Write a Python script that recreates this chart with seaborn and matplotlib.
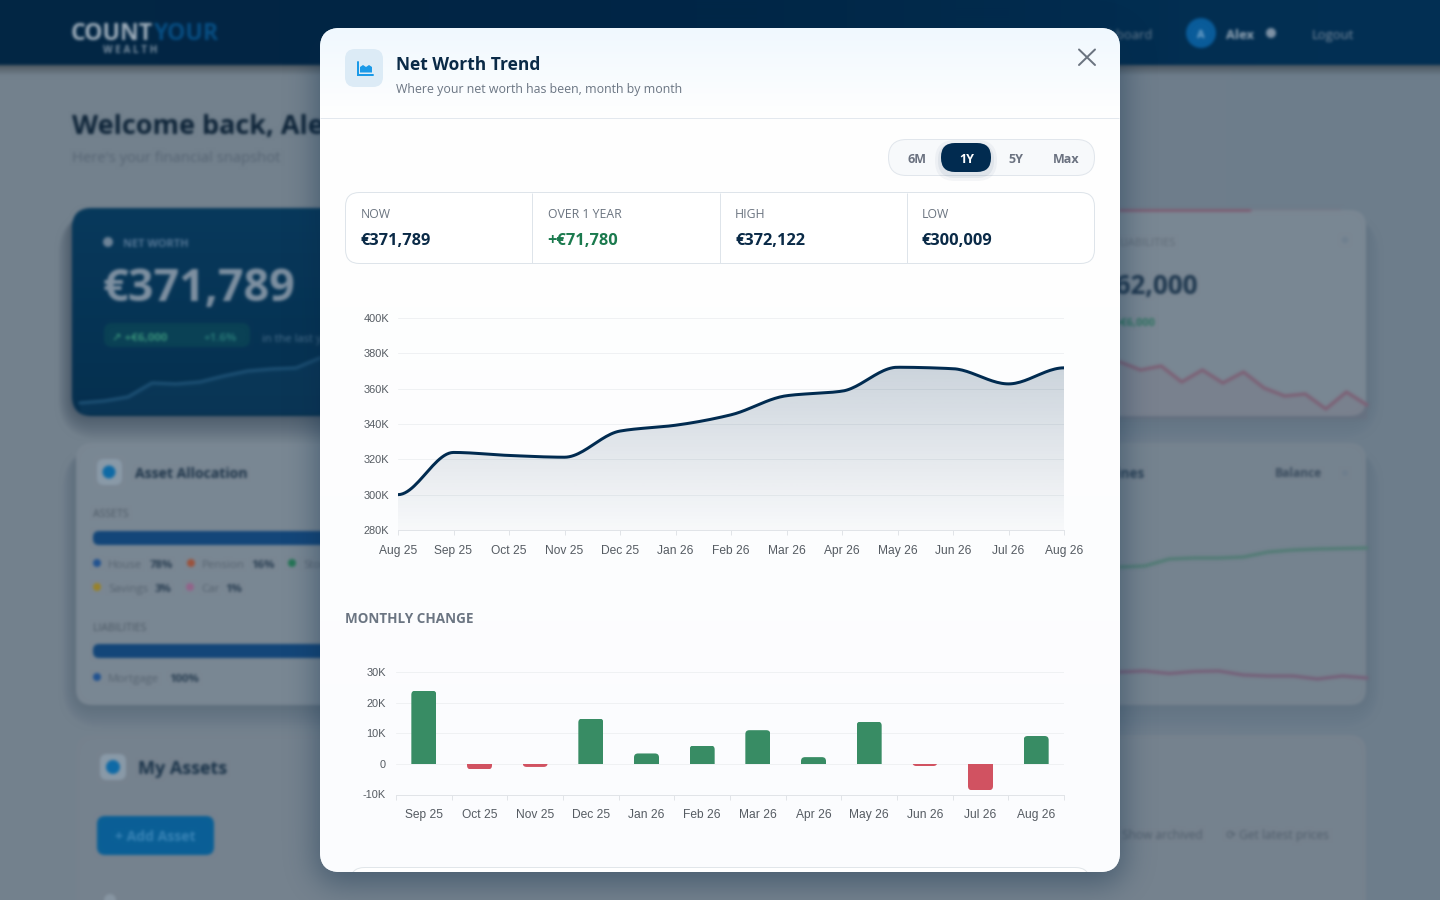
import numpy as np
import pandas as pd
import matplotlib
matplotlib.use("Agg")
import matplotlib.pyplot as plt
from matplotlib.patches import FancyBboxPatch, Circle, Polygon, BoxStyle
from matplotlib.transforms import IdentityTransform
import seaborn as sns

# ---- data ----
trend_months = ["Aug 25", "Sep 25", "Oct 25", "Nov 25", "Dec 25", "Jan 26", "Feb 26",
                "Mar 26", "Apr 26", "May 26", "Jun 26", "Jul 26", "Aug 26"]
trend_values = [300.009, 323.9, 322.2, 321.2, 336.0, 339.3, 345.2,
                356.0, 358.6, 372.122, 371.3, 362.7, 371.789]
trend_ticks = [280, 300, 320, 340, 360, 380, 400]

change_months = trend_months[1:]
change_values = [23.9, -1.8, -1.0, 14.8, 3.4, 6.0, 11.0, 2.2, 13.8, -0.7, -8.6, 9.1]
change_ticks = [-10, 0, 10, 20, 30]

stat_labels = ["NOW", "OVER 1 YEAR", "HIGH", "LOW"]
stat_values = ["€371,789", "+€71,780", "€372,122", "€300,009"]
range_labels = ["6M", "1Y", "5Y", "Max"]

# blurred dashboard sparklines behind the dialog
bg_networth = [403, 401, 397, 383, 384, 382, 376, 371, 369, 368, 358]
bg_liab = [362, 370, 366, 382, 370, 383, 372, 388, 396, 394, 409, 392, 405]
bg_green = [567, 566, 559, 558, 558, 557, 552, 550, 549, 548.5, 548]
bg_red = [672, 671, 673.5, 671.5, 671, 675, 676, 676, 679, 676, 678]

# ---- setup ----
sns.set_theme(style="white")
plt.rcParams["font.family"] = ["Open Sans", "DejaVu Sans"]
W, H = 1440, 900
PT = 0.72
NAVY = "#012B50"
fig = plt.figure(figsize=(14.4, 9), dpi=100)


def make_blur(sigma, pad=False):
    R = int(3 * sigma)
    w = np.exp(-0.5 * (np.arange(-R, R + 1) / sigma) ** 2)
    w = (w / w.sum()).astype(np.float32)

    def run(a):
        out = np.zeros_like(a)
        for k, wk in zip(range(-R, R + 1), w):
            out += wk * np.roll(a, k, axis=0)
        res = np.zeros_like(a)
        for k, wk in zip(range(-R, R + 1), w):
            res += wk * np.roll(out, k, axis=1)
        return res

    def flt(img, dpi):
        img = img.astype(np.float32)
        if pad:
            a = np.pad(img, ((R, R), (R, R), (0, 0)), mode="constant")
        else:
            a = np.pad(img, ((R, R), (R, R), (0, 0)), mode="edge")
        al = a[..., 3:4]
        a = np.concatenate([a[..., :3] * al, al], axis=2)
        b = run(a)
        al2 = np.clip(b[..., 3:4], 1e-4, 1)
        rgb = np.clip(b[..., :3] / al2, 0, 1)
        res = np.concatenate([rgb, b[..., 3:4]], axis=2)
        if pad:
            return np.clip(res, 0, 1), -R, -R
        return np.clip(res[R:-R, R:-R], 0, 1), 0, 0

    return flt


def full_ax(z):
    a = fig.add_axes([0, 0, 1, 1], zorder=z)
    a.set_xlim(0, W)
    a.set_ylim(H, 0)
    a.axis("off")
    a.patch.set_alpha(0)
    return a


def rbox(a, x0, y0, x1, y1, r, fc, ec="none", lw=0, z=1, alpha=None):
    p = FancyBboxPatch((x0, y0), x1 - x0, y1 - y0,
                       boxstyle=BoxStyle.Round(pad=0, rounding_size=r),
                       fc=fc, ec=ec, lw=lw * PT, zorder=z, alpha=alpha)
    a.add_patch(p)
    return p


def btext(x, y, s, px, color, weight="normal", ha="left"):
    return bg.text(x, y + 0.36 * px, s, fontsize=px * PT, color=color, fontweight=weight, ha=ha, va="baseline", zorder=5)


def dot(x, y, r, color):
    bg.add_patch(Circle((x, y), r, fc=color, ec="none", lw=0, zorder=5))


def card_shadow(x0, y0, x1, y1, strength=0.02):
    for g in range(2, 26, 3):
        rbox(bg, x0 - g * 0.6, y0 + 6, x1 + g * 0.6, y1 + g, 18 + g, "#14263A", z=1.5, alpha=strength)


# ---- blurred background ----
bg = full_ax(0)
grad = np.array([[[0.455, 0.51, 0.555], [0.44, 0.50, 0.55], [0.43, 0.49, 0.545]]])
bg.imshow(grad, extent=(0, W, H, 0), aspect="auto", interpolation="bicubic", zorder=0)
nav = np.array([[[0.01, 0.15, 0.27], [0.0, 0.14, 0.27], [0.01, 0.19, 0.33]]])
bg.imshow(nav, extent=(0, W, 65, 0), aspect="auto", interpolation="bicubic", zorder=1)
shade = np.zeros((20, 1, 4))
shade[:, 0, 3] = np.linspace(0.3, 0, 20)
bg.imshow(shade, extent=(0, W, 76, 65), aspect="auto", zorder=1)
bg.set_xlim(0, W)
bg.set_ylim(H, 0)

btext(71, 32, "COUNT", 23, "#A0AFBC", "bold")
btext(154, 32, "YOUR", 23, "#084F84", "bold")
btext(103, 49, "W E A L T H", 10, "#7F92A3", "bold")
btext(1153, 34, "Dashboard", 13, "#6A7F93", ha="right")
dot(1201, 33, 15, "#0A5C9A")
btext(1201, 34, "A", 11, "#75A6CC", "bold", ha="center")
btext(1240, 34, "Alex", 13, "#98A9B8", "bold", ha="center")
dot(1271, 33, 5, "#7F93A6")
btext(1333, 34, "Logout", 13, "#7C8EA0", ha="center")

btext(72, 124, "Welcome back, Alex", 27, "#0E2438", "bold")
btext(72, 157, "Here's your financial snapshot", 14.8, "#566473")

# net worth card
card_shadow(72, 208, 640, 416, 0.05)
rbox(bg, 72, 208, 640, 416, 20, "#06304F", z=2)
wash = np.zeros((60, 1, 4))
wash[:, 0, :3] = (0.04, 0.28, 0.44)
wash[:, 0, 3] = np.linspace(0.4, 0.0, 60)
im = bg.imshow(wash, extent=(72, 640, 416, 208), aspect="auto", zorder=2.1)
im.set_clip_path(rbox(bg, 72, 208, 640, 416, 20, "none", z=0))
bg.set_xlim(0, W)
bg.set_ylim(H, 0)
dot(108, 242, 5, "#6F8599")
btext(123, 243, "NET WORTH", 11, "#557796", "bold")
btext(103, 285, "€371,789", 45, "#7E90A1", "bold")
rbox(bg, 104, 323, 250, 347, 8, "#0C4856", z=3, alpha=0.7)
btext(112, 337, "↗ +€6,000", 11.5, "#38917A", "bold")
btext(203, 337, "+1.6%", 11.5, "#267575", "bold")
btext(262, 338, "in the last year", 11, "#4E7392")

# right upper card
card_shadow(640, 210, 1366, 416, 0.012)
rbox(bg, 640, 210, 1366, 416, 16, "#7A8793", z=2)
bg.plot([1120, 1250], [209.5, 209.5], color="#7F5C72", lw=2.0, zorder=3)
bg.plot([1250, 1340], [209.5, 209.5], color="#7F7486", lw=1.5, zorder=3, alpha=0.4)
btext(1176, 242, "LIABILITIES", 11, "#5F6B77", ha="right")
btext(1198, 285, "€362,000", 26, "#1E374E", "bold", ha="right")
btext(1155, 322, "+€6,000", 11, "#2F7461", "bold", ha="right")
dot(1345, 240, 3.5, "#70808F")

# allocation card
card_shadow(76, 443, 640, 705, 0.022)
rbox(bg, 76, 443, 640, 705, 16, "#7A8793", z=2)
rbox(bg, 97, 459, 122, 485, 7, "#8A9AA8", z=3)
dot(109, 472, 6.5, "#0E6AA5")
btext(135, 473, "Asset Allocation", 14, "#1C3348", "bold")
btext(93, 513, "ASSETS", 10.5, "#4C5965")
rbox(bg, 93, 531, 640, 545, 6, "#134679", z=3)
for x, col, lab, lx, pct, px in [(97, "#215290", "House", 108, "78%", 161),
                                 (191, "#9C523C", "Pension", 202, "16%", 263),
                                 (292, "#247555", "Stocks", 303, "", 0)]:
    dot(x, 563, 4, col)
    btext(lx, 564, lab, 11.5, "#566370")
    if pct:
        btext(px, 564, pct, 11.5, "#2A3F53", "bold", ha="center")
dot(97, 587, 4, "#998228")
btext(108, 588, "Savings", 11.5, "#566370")
btext(163, 588, "3%", 11.5, "#2A3F53", "bold", ha="center")
dot(190, 587, 4, "#93648A")
btext(201, 588, "Car", 11.5, "#566370")
btext(234, 588, "1%", 11.5, "#2A3F53", "bold", ha="center")
btext(93, 627, "LIABILITIES", 10.5, "#4C5965")
rbox(bg, 93, 644, 640, 658, 6, "#134679", z=3)
dot(97, 677, 4, "#215290")
btext(108, 678, "Mortgage", 11.5, "#566370")
btext(184, 678, "100%", 11.5, "#2A3F53", "bold", ha="center")

# right middle card
card_shadow(640, 443, 1366, 705, 0.012)
rbox(bg, 640, 443, 1366, 705, 16, "#76838F", z=2)
btext(1145, 473, "Timelines", 13.5, "#2A4156", "bold", ha="right")
btext(1298, 473, "Balance", 12, "#3A4C5E", "bold", ha="center")
dot(1345, 473, 3, "#6E7E8D")

# assets card
rbox(bg, 76, 735, 1366, 930, 16, "#76828E", z=2)
rbox(bg, 100, 754, 126, 780, 7, "#8A9AA8", z=3)
dot(113, 767, 7, "#0F6AA6")
btext(138, 768, "My Assets", 18, "#1A3349", "bold")
rbox(bg, 97, 816, 214, 855, 8, "#0A5F96", z=3)
btext(155, 836, "+ Add Asset", 14, "#3A84B6", "bold", ha="center")
btext(1203, 835, "Show archived", 12, "#4F5D6B", ha="right")
btext(1226, 835, "⟳ Get latest prices", 12, "#4F5D6B")
dot(110, 900, 6, "#8896A3")
bg.set_agg_filter(make_blur(1.5))


def spark(vals, x0, x1, color, fill=None):
    xs = np.linspace(x0, x1, len(vals))
    sns.lineplot(x=xs, y=vals, ax=sp, color=color, lw=2.4, estimator=None, sort=False, zorder=4)
    if fill:
        sp.fill_between(xs, vals, [max(vals) + 10] * len(vals), color=fill, alpha=0.12, lw=0, zorder=3)


sp = full_ax(1)
spark(bg_networth, 80, 320, "#1D5074", "#2A6288")
spark(bg_liab, 1120, 1367, "#7E6176", "#7A586C")
spark(bg_green, 1120, 1367, "#527C75")
spark(bg_red, 1120, 1367, "#766079")
sp.set_xlim(0, W)
sp.set_ylim(H, 0)
sp.axis("off")
sp.set_agg_filter(make_blur(1.5, pad=True))

# ---- soft dialog shadow ----
sh = full_ax(1.5)
rbox(sh, 316, 34, 1124, 884, 24, "#0A2A47", z=1, alpha=0.42)
sh.set_agg_filter(make_blur(15, pad=True))

# ---- dialog ----
md = full_ax(2)
modal = rbox(md, 320, 28, 1120, 872, 20, "#FFFFFF", z=1)
ramp = np.ones((844, 1, 3))
top = np.array([240, 248, 254]) / 255
white = np.array([255, 255, 255]) / 255
low = np.array([251, 252, 254]) / 255
for i in range(844):
    if i < 90:
        ramp[i, 0] = top + (white - top) * (i / 90)
    else:
        ramp[i, 0] = white + (low - white) * ((i - 90) / 754)
mim = md.imshow(ramp, extent=(320, 1120, 872, 28), aspect="auto", zorder=1.1)
mim.set_clip_path(modal)
md.set_xlim(0, W)
md.set_ylim(H, 0)
md.plot([320, 1119], [117.5, 117.5], color="#E3E8EE", lw=1 * PT, zorder=2, solid_capstyle="butt")

rbox(md, 345, 49, 383, 87, 10, "#DCEBF6", z=2)
md.plot([357.5, 357.5, 373], [62, 75, 75], color="#1B9AE8", lw=2 * PT, zorder=3, solid_joinstyle="miter")
md.add_patch(Polygon([(360, 72.5), (360, 67), (363, 65), (366, 67), (369, 65), (372, 67), (372, 72.5)],
                     closed=True, fc="#1B9AE8", ec="none", lw=0, zorder=3))

md.text(396, 70, "Net Worth Trend", fontsize=17.4 * PT, fontweight="bold", color="#0A2A47", va="baseline", zorder=3)
md.text(395.5, 93, "Where your net worth has been, month by month", fontsize=12.45 * PT, color="#6B7683",
        va="baseline", zorder=3)
md.plot([1079, 1095], [49.5, 65], color="#6B7480", lw=2 * PT, zorder=3)
md.plot([1095, 1079], [49.5, 65], color="#6B7480", lw=2 * PT, zorder=3)

# range selector
rbox(md, 888.5, 139.5, 1094.5, 175.5, 18, "#F7F9FB", "#E1E6EC", 1, z=2)
for g, al in [(6, 0.04), (3, 0.06)]:
    rbox(md, 941 - g, 143 - g + 3, 991 + g, 172 + g + 3, 14 + g, NAVY, z=2.1, alpha=al)
rbox(md, 941, 143, 991, 172, 14, NAVY, z=2.2)
for lab, cx in zip(range_labels, [917, 966.5, 1016, 1066]):
    md.text(cx, 163, lab, fontsize=12.5 * PT, fontweight="bold", ha="center", va="baseline", zorder=3,
            color="#FFFFFF" if lab == "1Y" else "#6B7280")

# stat cards
rbox(md, 345.5, 192.5, 1094.5, 263.5, 14, "#FFFFFF", "#DEE4EA", 1, z=2)
for x in [532, 720, 907]:
    md.plot([x, x], [193, 263], color="#DEE4EA", lw=1 * PT, zorder=3, solid_capstyle="butt")
for lab, val, x in zip(stat_labels, stat_values, [360.5, 547.5, 735, 922]):
    md.text(x, 218, lab, fontsize=12.3 * PT, fontweight="medium", color="#6B7480", va="baseline", zorder=3)
    md.text(x, 245, val, fontsize=16.4 * PT, fontweight="bold", va="baseline", zorder=3,
            color="#1B7A4E" if val.startswith("+") else "#0A2A47")

md.text(345, 623, "MONTHLY CHANGE", fontsize=13.5 * PT, fontweight="bold", color="#6B7582", va="baseline", zorder=3)

# cut-off next card at the bottom
nxt = rbox(md, 350.5, 867.5, 1089.5, 920, 14, "#FFFFFF", "#E1E6EA", 1, z=2)
nxt.set_clip_path(modal)


# ---- charts ----
def chart_ax(l, r, t, b):
    a = fig.add_axes([l / W, 1 - b / H, (r - l) / W, (b - t) / H], zorder=3)
    a.patch.set_alpha(0)
    for s in ["top", "left", "right"]:
        a.spines[s].set_visible(False)
    a.spines["bottom"].set_color("#E1E4E8")
    a.spines["bottom"].set_linewidth(1 * PT)
    a.set_axisbelow(True)
    a.grid(False)
    a.yaxis.grid(True, color="#EFF1F3", lw=1 * PT)
    return a


def fmt_k(v):
    return "0" if v == 0 else f"{v}K"


XTICK_FONT = dict(fontfamily="Liberation Sans", fontsize=12 * PT, color="#555B62")
YTICK_FONT = dict(fontfamily="Liberation Sans", fontsize=11 * PT, color="#555B62")

# monotone curve through the monthly values
vals = np.array(trend_values)
slopes = np.diff(vals)
tang = np.zeros_like(vals)
for i in range(1, len(vals) - 1):
    a, b = slopes[i - 1], slopes[i]
    tang[i] = 2 * a * b / (a + b) if a * b > 0 else 0.0
tt = np.linspace(0, 1, 25)
curve_x, curve_y = [], []
for i in range(len(vals) - 1):
    h00 = 2 * tt ** 3 - 3 * tt ** 2 + 1
    h10 = tt ** 3 - 2 * tt ** 2 + tt
    h01 = -2 * tt ** 3 + 3 * tt ** 2
    h11 = tt ** 3 - tt ** 2
    curve_x.extend(i + tt)
    curve_y.extend(h00 * vals[i] + h10 * tang[i] + h01 * vals[i + 1] + h11 * tang[i + 1])
curve_x, curve_y = np.array(curve_x), np.array(curve_y)

ax1 = chart_ax(398, 1064, 318, 530)
sns.lineplot(data=pd.DataFrame({"m": curve_x, "v": curve_y}), x="m", y="v", ax=ax1, color=NAVY, lw=3 * PT,
             estimator=None, sort=False, zorder=3)
g = np.zeros((256, 1, 4))
g[:, 0, :3] = matplotlib.colors.to_rgb(NAVY)
g[:, 0, 3] = np.linspace(0.25, 0.02, 256)
gim = ax1.imshow(g, extent=(0, 12, 280, 400), aspect="auto", zorder=1, origin="upper")
poly = Polygon(np.vstack([[0, 280], np.column_stack([curve_x, curve_y]), [12, 280]]), closed=True,
               transform=ax1.transData, fc="none", ec="none")
ax1.add_patch(poly)
gim.set_clip_path(poly)
ax1.set_xlim(0, 12)
ax1.set_ylim(280, 400)
ax1.set_xlabel("")
ax1.set_ylabel("")
ax1.set_yticks(trend_ticks)
ax1.set_yticklabels([fmt_k(v) for v in trend_ticks], **YTICK_FONT)
ax1.set_xticks(range(13))
ax1.set_xticklabels(trend_months, **XTICK_FONT)
ax1.tick_params(axis="y", length=0, pad=9 * PT)
ax1.tick_params(axis="x", length=5 * PT, width=1 * PT, color="#E1E4E8", pad=19 * PT, bottom=True)
for lab in ax1.get_xticklabels():
    lab.set_va("baseline")

# monthly change bars
ax2 = chart_ax(396, 1064, 672, 794.5)
df = pd.DataFrame({"month": change_months, "change": change_values,
                   "dir": ["up" if v >= 0 else "down" for v in change_values]})
sns.barplot(data=df, x="month", y="change", hue="dir", order=change_months, dodge=False, legend=False,
            palette={"up": "#388C64", "down": "#D15261"}, saturation=1, width=25 / 55.67, ax=ax2, zorder=2)
ax2.set_xlim(-0.5, 11.5)
ax2.set_ylim(-10, 30)
ax2.set_xlabel("")
ax2.set_ylabel("")
ax2.set_yticks(change_ticks)
ax2.set_yticklabels([fmt_k(v) for v in change_ticks], **YTICK_FONT)
ax2.set_xticks(range(12))
ax2.set_xticklabels(change_months, **XTICK_FONT)
ax2.set_xticks(np.arange(-0.5, 12, 1), minor=True)
ax2.tick_params(axis="y", length=0, pad=10 * PT)
ax2.tick_params(axis="x", which="major", length=0, pad=23.5 * PT, bottom=False)
ax2.tick_params(axis="x", which="minor", length=5 * PT, width=1 * PT, color="#E1E4E8", bottom=True)
ax2.yaxis.grid(True, color="#EFF1F3", lw=1 * PT)
ax2.xaxis.grid(False, which="both")
for lab in ax2.get_xticklabels():
    lab.set_va("baseline")

# rounded outer corners on each bar, square at the zero line
fig.canvas.draw()
for p in ax2.patches:
    h = p.get_height()
    if h == 0:
        continue
    (x0, y0), (x1, y1) = ax2.transData.transform([(p.get_x(), p.get_y()), (p.get_x() + p.get_width(), p.get_y() + h)])
    ylo, yhi = min(y0, y1), max(y0, y1)
    r = 4
    if h > 0:
        ylo -= 2 * r
    else:
        yhi += 2 * r
    p.set_clip_path(BoxStyle.Round(pad=0, rounding_size=r)(x0, ylo, x1 - x0, yhi - ylo, 1), IdentityTransform())
    p.set_linewidth(0)

fig.savefig("out.png", dpi=100)
